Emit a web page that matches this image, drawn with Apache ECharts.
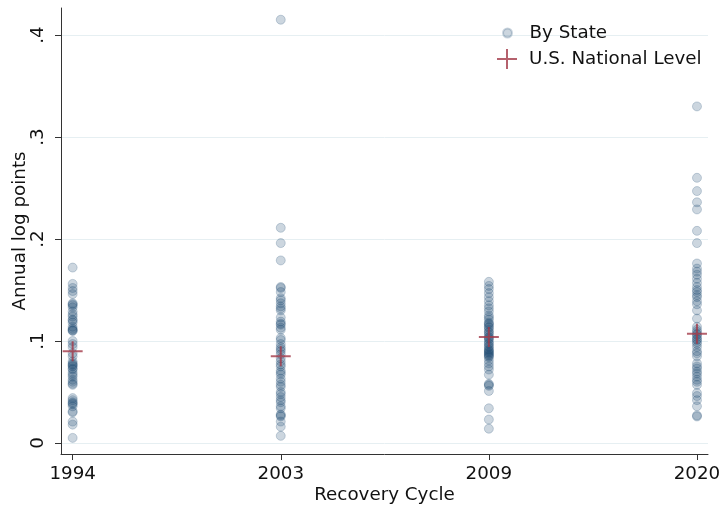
<!DOCTYPE html>
<html>
<head>
<meta charset="utf-8">
<script src="https://cdn.jsdelivr.net/npm/echarts@6/dist/echarts.min.js"></script>
<style>
  html, body { margin: 0; padding: 0; background: #fff; }
  #chart { width: 722px; height: 505px; }
</style>
</head>
<body>
<div id="chart"></div>
<script>
// Recovery cycles shown along the x axis
const cycles = ['1994', '2003', '2009', '2020'];

// State-level annual growth, log points, one list per cycle
const state1994 = [0.172, 0.156, 0.152, 0.149, 0.146, 0.137, 0.136, 0.135, 0.133, 0.129,
  0.126, 0.124, 0.121, 0.120, 0.118, 0.114, 0.112, 0.111, 0.110, 0.110,
  0.100, 0.097, 0.094, 0.088, 0.085, 0.080, 0.078, 0.077, 0.076, 0.075,
  0.073, 0.072, 0.069, 0.067, 0.065, 0.062, 0.060, 0.058, 0.057, 0.044,
  0.042, 0.040, 0.039, 0.038, 0.036, 0.031, 0.030, 0.021, 0.018, 0.005];
const state2003 = [0.415, 0.211, 0.196, 0.179, 0.153, 0.152, 0.148, 0.142, 0.140, 0.137,
  0.134, 0.132, 0.130, 0.123, 0.119, 0.117, 0.116, 0.113, 0.111, 0.103,
  0.101, 0.097, 0.094, 0.092, 0.090, 0.087, 0.083, 0.080, 0.077, 0.075,
  0.071, 0.069, 0.067, 0.063, 0.060, 0.057, 0.055, 0.050, 0.048, 0.045,
  0.042, 0.040, 0.036, 0.034, 0.028, 0.027, 0.026, 0.021, 0.016, 0.007];
const state2009 = [0.158, 0.154, 0.151, 0.147, 0.143, 0.139, 0.135, 0.132, 0.129, 0.125,
  0.123, 0.121, 0.118, 0.117, 0.116, 0.114, 0.113, 0.111, 0.109, 0.108,
  0.106, 0.104, 0.103, 0.102, 0.100, 0.098, 0.097, 0.095, 0.094, 0.092,
  0.091, 0.090, 0.089, 0.088, 0.087, 0.086, 0.085, 0.084, 0.081, 0.078,
  0.075, 0.072, 0.067, 0.058, 0.057, 0.056, 0.051, 0.034, 0.023, 0.014];
const state2020 = [0.330, 0.260, 0.247, 0.236, 0.229, 0.208, 0.196, 0.176, 0.171, 0.168,
  0.165, 0.161, 0.157, 0.153, 0.150, 0.148, 0.145, 0.143, 0.139, 0.136,
  0.130, 0.122, 0.114, 0.111, 0.109, 0.107, 0.106, 0.104, 0.102, 0.101,
  0.099, 0.097, 0.094, 0.090, 0.088, 0.085, 0.078, 0.075, 0.073, 0.070,
  0.068, 0.065, 0.062, 0.060, 0.057, 0.049, 0.046, 0.042, 0.036, 0.027, 0.026];

// U.S. national level for each cycle
const national = [0.090, 0.085, 0.104, 0.107];

// Y-axis tick values
const yTicks = [0, 0.1, 0.2, 0.3, 0.4];

const stateLists = [state1994, state2003, state2009, state2020];
const xPos = cycles.map((_, i) => i + 1);

const stateData = [];
stateLists.forEach((list, i) => {
  list.forEach(v => stateData.push([xPos[i], v]));
});
const nationalData = national.map((v, i) => [xPos[i], v]);

const FONT = 'DejaVu Sans';
const FS = 18.3;
const PLUS = 'path://M9,0h2v9h9v2h-9v9h-2v-9h-9v-2h9z';
const STATE_FILL = 'rgba(26,71,111,0.28)';
const NATIONAL = '#a33a48';

const chart = echarts.init(document.getElementById('chart'), null, { renderer: 'canvas' });

chart.setOption({
  animation: false,
  backgroundColor: '#fff',
  textStyle: { fontFamily: FONT },
  grid: { left: 61, right: 14, top: 8, bottom: 51, containLabel: false, outerBoundsMode: 'none' },
  legend: [
    {
      data: [{ name: 'By State', icon: 'circle' }],
      left: 497, top: 19,
      itemWidth: 34, itemHeight: 9,
      selectedMode: false,
      textStyle: { fontFamily: FONT, fontSize: FS, color: '#111' }
    },
    {
      data: [{ name: 'U.S. National Level', icon: PLUS }],
      left: 492, top: 44,
      itemWidth: 34, itemHeight: 20,
      selectedMode: false,
      textStyle: { fontFamily: FONT, fontSize: FS, color: '#111' }
    }
  ],
  xAxis: {
    type: 'value',
    min: 0.944, max: 4.053,
    name: 'Recovery Cycle',
    nameLocation: 'middle',
    nameGap: 32,
    nameMoveOverlap: false,
    nameTextStyle: { fontFamily: FONT, fontSize: FS, color: '#111' },
    axisLine: { show: true, onZero: false, lineStyle: { color: '#333', width: 1 } },
    axisTick: { show: true, length: 6, customValues: xPos, lineStyle: { color: '#333' } },
    axisLabel: {
      customValues: xPos,
      margin: 11,
      fontFamily: FONT, fontSize: FS, color: '#111',
      formatter: v => cycles[Math.round(v) - 1] || ''
    },
    splitLine: { show: false }
  },
  yAxis: {
    type: 'value',
    min: -0.0108, max: 0.4265,
    name: 'Annual log points',
    nameLocation: 'middle',
    nameGap: 32,
    nameMoveOverlap: false,
    nameTextStyle: { fontFamily: FONT, fontSize: FS, color: '#111' },
    axisLine: { show: true, onZero: false, lineStyle: { color: '#333', width: 1 } },
    axisTick: { show: true, length: 6, customValues: yTicks, lineStyle: { color: '#333' } },
    axisLabel: {
      customValues: yTicks,
      rotate: 90,
      margin: 14,
      fontFamily: FONT, fontSize: FS, color: '#111',
      formatter: v => v === 0 ? '0' : ('.' + Math.round(v * 10))
    },
    splitLine: { show: false }
  },
  series: [
    {
      name: 'By State',
      type: 'scatter',
      symbol: 'circle',
      symbolSize: 9,
      data: stateData,
      itemStyle: { color: STATE_FILL, borderColor: 'rgba(26,71,111,0.28)', borderWidth: 1 },
      markLine: {
        silent: true,
        symbol: 'none',
        label: { show: false },
        lineStyle: { color: '#e6eff2', width: 1, type: 'solid' },
        data: yTicks.map(v => ({ yAxis: v })),
        z: 0
      },
      z: 2
    },
    {
      name: 'U.S. National Level',
      type: 'scatter',
      symbol: PLUS,
      symbolSize: 20,
      data: nationalData,
      itemStyle: { color: NATIONAL },
      z: 3
    }
  ]
});
</script>
</body>
</html>
